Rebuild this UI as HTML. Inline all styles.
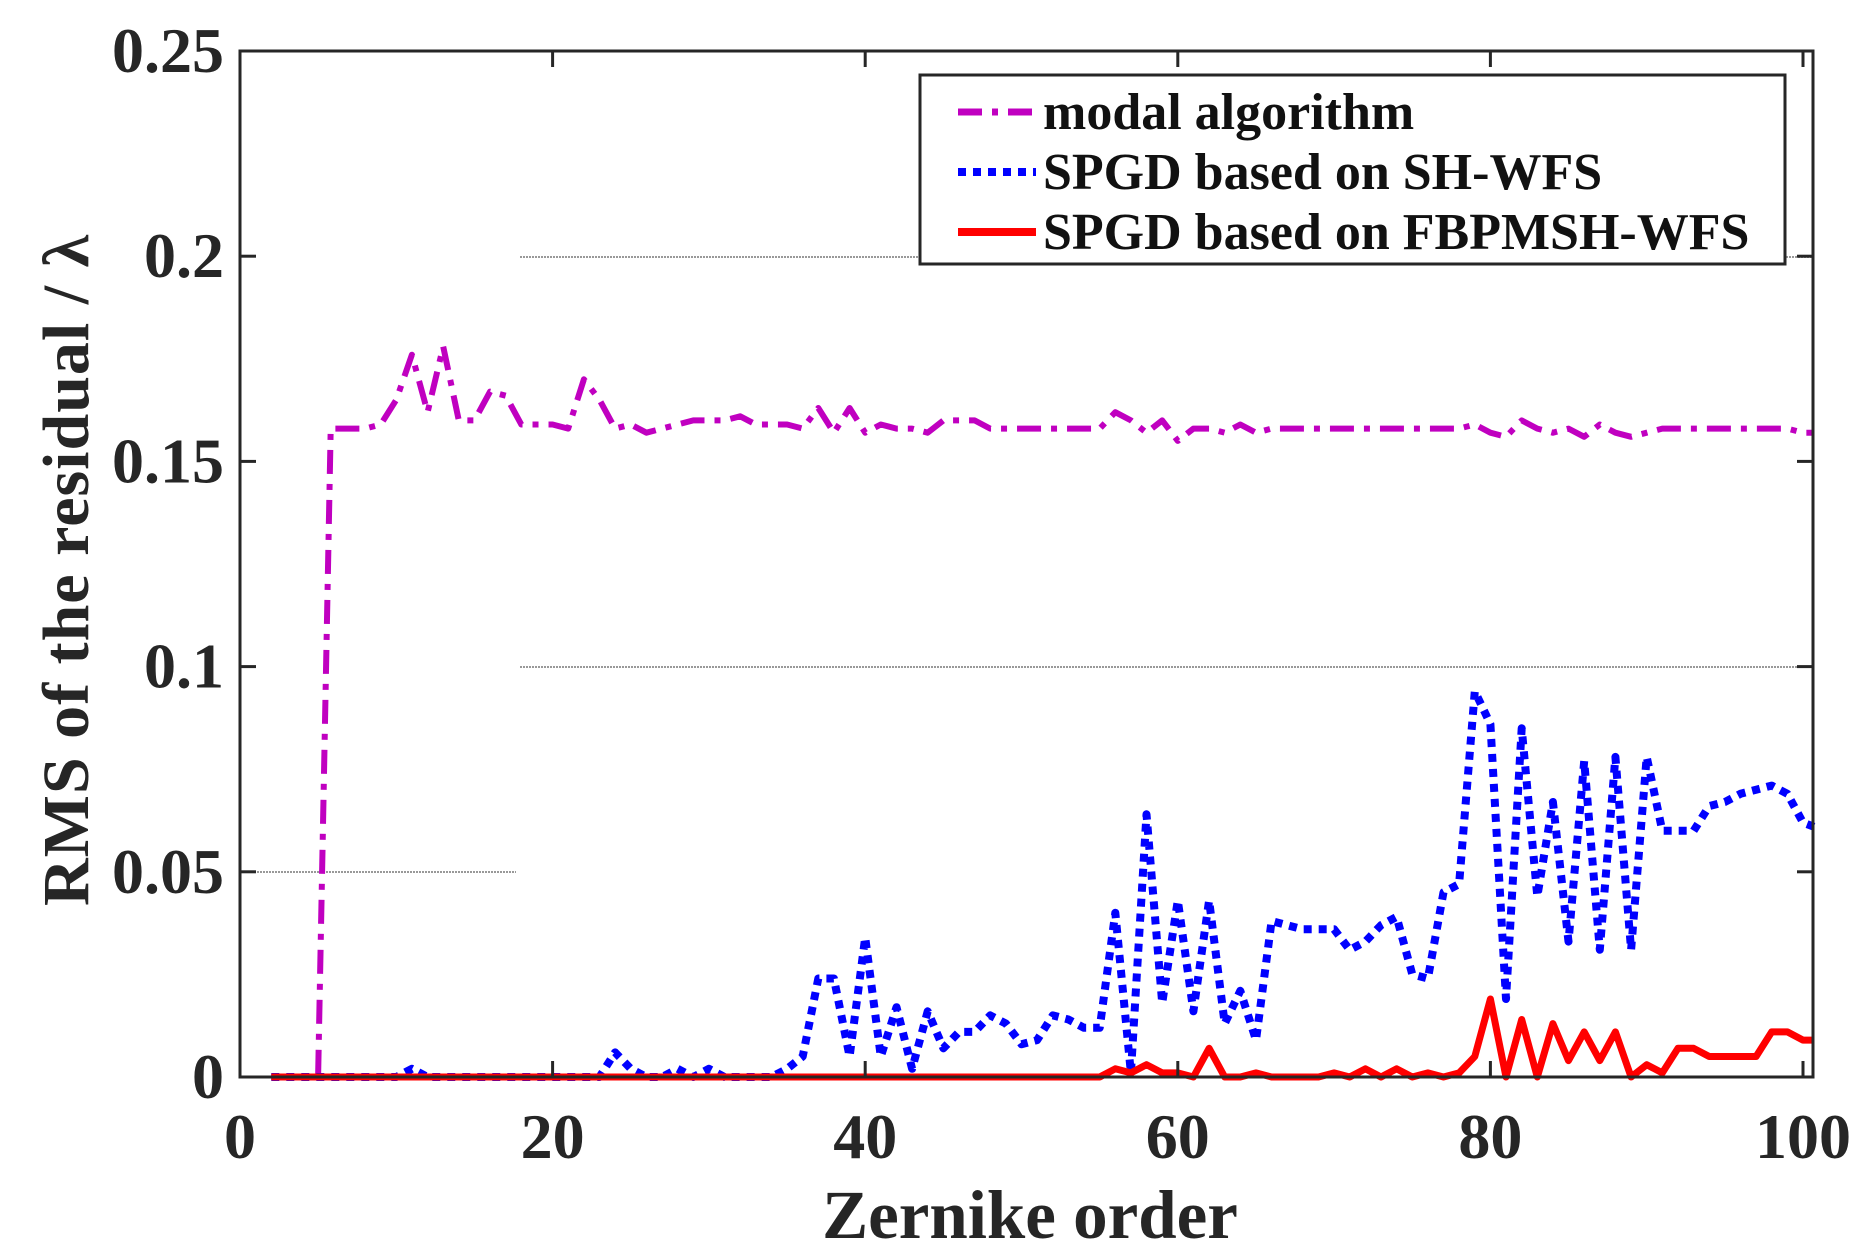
<!DOCTYPE html>
<html><head><meta charset="utf-8"><style>
html,body{margin:0;padding:0;background:#fff;width:1871px;height:1258px;overflow:hidden}
svg text{font-family:"Liberation Serif",serif;font-weight:bold;fill:#262626}
</style></head><body>
<svg id="s" width="1871" height="1258" xmlns="http://www.w3.org/2000/svg">
<line x1="520" y1="257" x2="1813" y2="257" stroke="#999" stroke-width="2" stroke-dasharray="2,1"/>
<line x1="520" y1="667" x2="1813" y2="667" stroke="#999" stroke-width="2" stroke-dasharray="2,1"/>
<line x1="242" y1="872" x2="516" y2="872" stroke="#999" stroke-width="2" stroke-dasharray="2,1"/>
<g id="series"></g>
<rect x="240" y="51" width="1573" height="1026" fill="none" stroke="#262626" stroke-width="3"/>
<g id="ticks" stroke="#262626" stroke-width="3"></g>
<g font-size="64" text-anchor="end" id="yl"></g>
<g font-size="64" text-anchor="middle" id="xl"></g>
<text x="1030" y="1238" font-size="69" text-anchor="middle">Zernike order</text>
<text transform="translate(88,570) rotate(-90)" font-size="66" text-anchor="middle" letter-spacing="1">RMS of the residual / λ</text>
<rect x="920" y="75" width="865" height="189" fill="#fff" stroke="#262626" stroke-width="3"/>
<line x1="958" y1="112" x2="1036" y2="112" stroke="#c000c0" stroke-width="7" stroke-dasharray="24,10,6,10"/>
<line x1="958" y1="172" x2="1036" y2="172" stroke="#0000ff" stroke-width="8" stroke-dasharray="8,7"/>
<line x1="958" y1="232" x2="1036" y2="232" stroke="#ff0000" stroke-width="8"/>
<g font-size="52">
<text x="1043" y="129" style="fill:#111">modal algorithm</text>
<text x="1043" y="189" style="fill:#111">SPGD based on SH-WFS</text>
<text x="1043" y="249" style="fill:#111">SPGD based on FBPMSH-WFS</text>
</g>
</svg>
<script>
const X=n=>240+15.63*n, Y=v=>1077-4104*v;
const ns='http://www.w3.org/2000/svg';
const s=document.getElementById('series');
function pl(pts,col,w,dash){const p=document.createElementNS(ns,'polyline');p.setAttribute('points',pts.map(a=>X(a[0]).toFixed(1)+','+Y(a[1]).toFixed(1)).join(' '));p.setAttribute('fill','none');p.setAttribute('stroke',col);p.setAttribute('stroke-width',w);p.setAttribute('stroke-linejoin','round');if(dash)p.setAttribute('stroke-dasharray',dash);s.appendChild(p);}
let m={6:.158,7:.158,8:.158,9:.159,10:.165,11:.176,12:.162,13:.178,14:.160,15:.160,16:.167,17:.166,18:.159,19:.159,20:.159,21:.158,22:.170,23:.165,24:.158,25:.159,26:.157,27:.158,28:.159,29:.160,30:.160,31:.160,32:.161,33:.159,34:.159,35:.159,36:.158,37:.163,38:.157,39:.163,40:.157,41:.159,42:.158,43:.158,44:.157,45:.160,46:.160,47:.160,48:.158,56:.162,57:.160,58:.157,59:.160,60:.155,61:.158,62:.158,63:.157,64:.159,65:.157,79:.159,80:.157,81:.156,82:.160,83:.158,84:.157,85:.158,86:.156,87:.159,88:.157,89:.156,90:.157,100:.157,101:.157};
let mp=[[2,0],[3,0],[4,0],[5,0],[5.8,0.158]];for(let n=6;n<=100;n++)mp.push([n,m[n]!==undefined?m[n]:0.158]);mp.push([100.7,.157]);
let b={11:.002,24:.006,25:.002,28:.002,30:.002,35:.002,36:.005,37:.024,38:.024,39:.005,40:.034,41:.005,42:.017,43:.002,44:.016,45:.007,46:.011,47:.011,48:.015,49:.013,50:.008,51:.009,52:.015,53:.014,54:.012,55:.012,56:.040,57:.001,58:.064,59:.018,60:.043,61:.016,62:.043,63:.013,64:.021,65:.009,66:.038,67:.037,68:.036,69:.036,70:.036,71:.031,72:.033,73:.037,74:.039,75:.025,76:.024,77:.045,78:.047,79:.094,80:.086,81:.019,82:.085,83:.044,84:.067,85:.033,86:.077,87:.031,88:.078,89:.031,90:.078,91:.060,92:.060,93:.060,94:.066,95:.067,96:.069,97:.070,98:.071,99:.069,100:.062};
let bp=[];for(let n=2;n<=100;n++)bp.push([n,b[n]||0]);bp.push([100.7,.061]);
let r={56:.002,57:.001,58:.003,59:.001,60:.001,62:.007,65:.001,70:.001,72:.002,74:.002,76:.001,78:.001,79:.005,80:.019,82:.014,84:.013,85:.004,86:.011,87:.004,88:.011,90:.003,91:.001,92:.007,93:.007,94:.005,95:.005,96:.005,97:.005,98:.011,99:.011,100:.009};
let rp=[];for(let n=2;n<=100;n++)rp.push([n,r[n]||0]);rp.push([100.7,.009]);
pl(mp,'#c000c0',6,'24,10,6,10');
pl(bp,'#0000ff',8,'8,7');
pl(rp,'#ff0000',7);
const t=document.getElementById('ticks'),yl=document.getElementById('yl'),xl=document.getElementById('xl');
function ln(a,b,c,d){const l=document.createElementNS(ns,'line');l.setAttribute('x1',a);l.setAttribute('y1',b);l.setAttribute('x2',c);l.setAttribute('y2',d);t.appendChild(l);}
function tx(g,x,y,s){const e=document.createElementNS(ns,'text');e.setAttribute('x',x);e.setAttribute('y',y);e.textContent=s;g.appendChild(e);}
['0','0.05','0.1','0.15','0.2','0.25'].forEach((s,i)=>{const y=Y(i*0.05);ln(240,y,256,y);ln(1813,y,1797,y);tx(yl,224,y+21,s);});
[0,20,40,60,80,100].forEach(n=>{const x=X(n);ln(x,1077,x,1061);ln(x,51,x,67);tx(xl,x,1158,String(n));});
</script>
</body></html>
